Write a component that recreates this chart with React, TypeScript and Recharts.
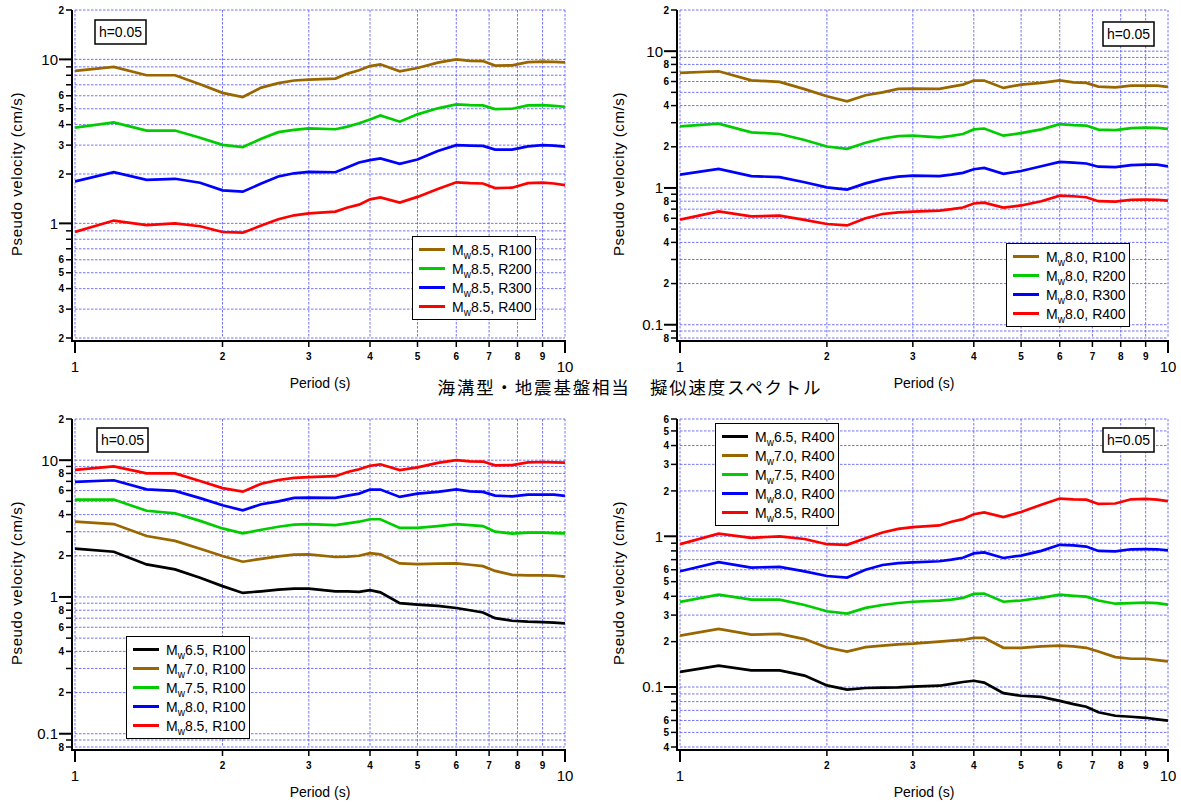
import React from 'react';
import { LineChart, Line, XAxis, YAxis, CartesianGrid, Legend } from 'recharts';

// ---------- data ----------
const periods = [1.0, 1.2, 1.4, 1.6, 1.8, 2.0, 2.2, 2.4, 2.6, 2.8, 3.0, 3.4, 3.6, 3.8, 4.0, 4.2, 4.6, 5.0, 5.5, 6.0, 6.4, 6.8, 7.2, 7.8, 8.4, 9.0, 9.5, 10.0];

const mw85_r100 = [8.5, 9.0, 8.0, 8.0, 7.05, 6.25, 5.89, 6.73, 7.16, 7.43, 7.53, 7.64, 8.19, 8.58, 9.1, 9.33, 8.46, 8.86, 9.55, 10.0, 9.8, 9.77, 9.16, 9.2, 9.63, 9.7, 9.65, 9.6];
const mw85_r200 = [3.83, 4.13, 3.68, 3.68, 3.33, 3.01, 2.92, 3.28, 3.6, 3.72, 3.8, 3.75, 3.89, 4.08, 4.3, 4.55, 4.17, 4.62, 5.03, 5.31, 5.26, 5.24, 4.98, 5.0, 5.24, 5.26, 5.2, 5.14];
const mw85_r300 = [1.8, 2.05, 1.84, 1.87, 1.77, 1.59, 1.56, 1.75, 1.93, 2.02, 2.06, 2.05, 2.2, 2.35, 2.43, 2.49, 2.31, 2.45, 2.76, 3.0, 2.98, 2.97, 2.82, 2.82, 2.95, 3.0, 2.98, 2.94];
const mw85_r400 = [0.886, 1.04, 0.977, 1.0, 0.96, 0.886, 0.878, 0.97, 1.06, 1.12, 1.15, 1.18, 1.25, 1.3, 1.4, 1.44, 1.34, 1.45, 1.62, 1.78, 1.76, 1.75, 1.64, 1.65, 1.76, 1.77, 1.75, 1.71];

const mw80_r100 = [6.94, 7.13, 6.12, 5.96, 5.28, 4.68, 4.3, 4.76, 5.0, 5.3, 5.33, 5.3, 5.51, 5.7, 6.1, 6.1, 5.39, 5.7, 5.86, 6.12, 5.92, 5.86, 5.51, 5.44, 5.6, 5.6, 5.6, 5.48];
const mw80_r200 = [2.82, 2.95, 2.55, 2.48, 2.24, 2.01, 1.93, 2.14, 2.3, 2.39, 2.41, 2.34, 2.4, 2.48, 2.68, 2.72, 2.41, 2.52, 2.68, 2.93, 2.88, 2.86, 2.67, 2.65, 2.74, 2.76, 2.75, 2.7];
const mw80_r300 = [1.25, 1.38, 1.22, 1.2, 1.1, 1.01, 0.972, 1.08, 1.16, 1.21, 1.23, 1.22, 1.25, 1.29, 1.37, 1.4, 1.27, 1.33, 1.44, 1.55, 1.53, 1.51, 1.43, 1.42, 1.47, 1.48, 1.48, 1.44];
const mw80_r400 = [0.586, 0.674, 0.62, 0.627, 0.585, 0.545, 0.532, 0.6, 0.645, 0.663, 0.671, 0.683, 0.7, 0.72, 0.77, 0.781, 0.718, 0.745, 0.8, 0.878, 0.87, 0.855, 0.8, 0.794, 0.82, 0.821, 0.82, 0.807];

const mw75_r100 = [5.15, 5.15, 4.27, 4.09, 3.6, 3.17, 2.92, 3.1, 3.26, 3.38, 3.41, 3.35, 3.45, 3.55, 3.7, 3.7, 3.2, 3.2, 3.3, 3.41, 3.35, 3.3, 3.0, 2.9, 2.95, 2.95, 2.93, 2.92];
const mw70_r100 = [3.55, 3.41, 2.79, 2.57, 2.25, 1.99, 1.81, 1.9, 1.98, 2.04, 2.05, 1.96, 1.97, 2.0, 2.09, 2.05, 1.76, 1.74, 1.75, 1.76, 1.72, 1.68, 1.55, 1.45, 1.44, 1.44, 1.43, 1.41];
const mw65_r100 = [2.26, 2.14, 1.73, 1.59, 1.38, 1.2, 1.07, 1.1, 1.13, 1.15, 1.15, 1.1, 1.1, 1.09, 1.12, 1.08, 0.9, 0.88, 0.86, 0.83, 0.8, 0.77, 0.7, 0.67, 0.66, 0.655, 0.65, 0.64];

const mw75_r400 = [0.367, 0.41, 0.38, 0.38, 0.35, 0.318, 0.307, 0.335, 0.35, 0.361, 0.368, 0.374, 0.38, 0.39, 0.415, 0.417, 0.368, 0.375, 0.39, 0.41, 0.403, 0.398, 0.375, 0.357, 0.36, 0.363, 0.36, 0.352];
const mw70_r400 = [0.219, 0.243, 0.2225, 0.225, 0.208, 0.183, 0.172, 0.184, 0.188, 0.192, 0.194, 0.2, 0.203, 0.206, 0.212, 0.212, 0.182, 0.182, 0.186, 0.188, 0.186, 0.182, 0.172, 0.158, 0.154, 0.154, 0.151, 0.148];
const mw65_r400 = [0.126, 0.1385, 0.129, 0.129, 0.119, 0.1025, 0.096, 0.0985, 0.099, 0.0994, 0.1005, 0.102, 0.105, 0.108, 0.11, 0.107, 0.091, 0.0875, 0.086, 0.081, 0.077, 0.074, 0.068, 0.0645, 0.0635, 0.0625, 0.061, 0.0598];

// ---------- tick labels ----------
const xTicks = [1, 2, 3, 4, 5, 6, 7, 8, 9, 10];
const xLabels = ['1', '2', '3', '4', '5', '6', '7', '8', '9', '10'];

const yTicksA = [0.2, 0.3, 0.4, 0.5, 0.6, 0.7, 0.8, 0.9, 1, 2, 3, 4, 5, 6, 7, 8, 9, 10, 20];
const yLabelsA = ['2', '3', '4', '5', '6', '', '', '', '1', '2', '3', '4', '5', '6', '', '', '', '10', '2'];
const yTicksB = [0.08, 0.09, 0.1, 0.2, 0.3, 0.4, 0.5, 0.6, 0.7, 0.8, 0.9, 1, 2, 3, 4, 5, 6, 7, 8, 9, 10, 20];
const yLabelsB = ['8', '', '0.1', '2', '', '4', '', '6', '', '8', '', '1', '2', '', '4', '', '6', '', '8', '', '10', '2'];
const yTicksC = [0.04, 0.05, 0.06, 0.07, 0.08, 0.09, 0.1, 0.2, 0.3, 0.4, 0.5, 0.6, 0.7, 0.8, 0.9, 1, 2, 3, 4, 5, 6];
const yLabelsC = ['4', '5', '6', '', '', '', '0.1', '2', '3', '4', '5', '6', '', '', '', '1', '2', '3', '4', '5', '6'];

const BROWN = '#996600';
const GREEN = '#00cc00';
const BLUE = '#0000ff';
const RED = '#ff0000';
const BLACK = '#000000';

const rows = periods.map((p, i) => ({
  period: p,
  mw85_r100: mw85_r100[i], mw85_r200: mw85_r200[i], mw85_r300: mw85_r300[i], mw85_r400: mw85_r400[i],
  mw80_r100: mw80_r100[i], mw80_r200: mw80_r200[i], mw80_r300: mw80_r300[i], mw80_r400: mw80_r400[i],
  mw75_r100: mw75_r100[i], mw70_r100: mw70_r100[i], mw65_r100: mw65_r100[i],
  mw75_r400: mw75_r400[i], mw70_r400: mw70_r400[i], mw65_r400: mw65_r400[i],
}));

const FONT = '"Liberation Sans", Arial, sans-serif';

const isMajor = (v: number) => {
  const lg = Math.log10(v);
  return Math.abs(lg - Math.round(lg)) < 1e-6;
};

const findLabel = (ticks: number[], labels: string[], v: number) => {
  const i = ticks.findIndex((t) => Math.abs(t - v) < 1e-9 * Math.max(1, t));
  return i >= 0 ? labels[i] : '';
};

const makeXTick = (props: any) => {
  const { x, y, payload } = props;
  const v = payload.value;
  const label = findLabel(xTicks, xLabels, v);
  const major = isMajor(v);
  const ay = y + 3;
  const len = major ? 12 : 6;
  return (
    <g>
      <line x1={x} y1={ay} x2={x} y2={ay + len} stroke="#000" strokeWidth={major ? 2 : 1.5} />
      <text
        x={x}
        y={major ? ay + 31 : ay + 19}
        textAnchor="middle"
        fontSize={major ? 15 : 10}
        fontWeight={major ? 'normal' : 'bold'}
        fontFamily={FONT}
        fill="#000"
      >
        {label}
      </text>
    </g>
  );
};

const makeYTick = (ticks: number[], labels: string[]) => (props: any) => {
  const { x, y, payload } = props;
  const v = payload.value;
  const label = findLabel(ticks, labels, v);
  const major = isMajor(v);
  const ax = x - 3;
  const len = major ? 13 : 6;
  return (
    <g>
      <line x1={ax} y1={y} x2={ax - len} y2={y} stroke="#000" strokeWidth={major ? 2 : 1.5} />
      {label ? (
        <text
          x={ax - len - (major ? 1 : 2)}
          y={y}
          dy="0.36em"
          textAnchor="end"
          fontSize={major ? 15 : 10}
          fontWeight={major ? 'normal' : 'bold'}
          fontFamily={FONT}
          fill="#000"
        >
          {label}
        </text>
      ) : null}
    </g>
  );
};

const LegendBox = (props: any) => {
  const payload = props.payload || [];
  return (
    <div
      style={{
        border: '1.5px solid #000',
        background: '#fff',
        width: 124,
        boxSizing: 'border-box',
        padding: '3px 0 3px 6px',
        fontFamily: FONT,
        fontSize: 14,
        color: '#000',
      }}
    >
      {payload.map((e: any) => (
        <div key={String(e.value)} style={{ height: 19, display: 'flex', alignItems: 'center', whiteSpace: 'nowrap' }}>
          <span style={{ display: 'inline-block', width: 26, height: 3, background: e.color, marginRight: 7 }} />
          <span>
            M<span style={{ fontSize: 10, position: 'relative', top: 4 }}>w</span>
            {String(e.value).slice(2)}
          </span>
        </div>
      ))}
    </div>
  );
};

type Series = { key: string; name: string; color: string };

type PanelProps = {
  left: number;
  top: number;
  width: number;
  height: number;
  yAxisWidth: number;
  marginRight: number;
  xAxisHeight: number;
  yDomain: [number, number];
  yTicks: number[];
  yLabels: string[];
  series: Series[];
  legendLeft: number;
  legendTop: number;
};

const Panel = (p: PanelProps) => {
  const YTick = makeYTick(p.yTicks, p.yLabels);
  return (
    <div style={{ position: 'absolute', left: p.left, top: p.top }}>
      <LineChart
        width={p.width}
        height={p.height}
        data={rows}
        margin={{ top: 10, right: p.marginRight, bottom: 0, left: 0 }}
      >
        <CartesianGrid stroke="#5a5aff" strokeOpacity={0.85} strokeDasharray="2.5 1.5" strokeWidth={1} />
        <XAxis
          dataKey="period"
          type="number"
          scale="log"
          domain={[1, 10]}
          allowDataOverflow
          ticks={xTicks}
          interval={0}
          axisLine={false}
          tickLine={false}
          tickSize={0}
          tickMargin={0}
          tick={makeXTick}
          height={p.xAxisHeight}
        />
        <YAxis
          type="number"
          scale="log"
          domain={p.yDomain}
          allowDataOverflow
          ticks={p.yTicks}
          interval={0}
          axisLine={false}
          tickLine={false}
          tickSize={0}
          tickMargin={0}
          tick={YTick}
          width={p.yAxisWidth}
        />
        {p.series.map((s) => (
          <Line
            key={s.key}
            type="linear"
            dataKey={s.key}
            name={s.name}
            stroke={s.color}
            strokeWidth={2.7}
            dot={false}
            activeDot={false}
            isAnimationActive={false}
          />
        ))}
        <Legend
          layout="horizontal"
          verticalAlign="middle"
          align="center"
          content={LegendBox}
          wrapperStyle={{ position: 'absolute', left: p.legendLeft, top: p.legendTop, width: 124 }}
        />
      </LineChart>
    </div>
  );
};

const seriesA: Series[] = [
  { key: 'mw85_r100', name: 'Mw8.5, R100', color: BROWN },
  { key: 'mw85_r200', name: 'Mw8.5, R200', color: GREEN },
  { key: 'mw85_r300', name: 'Mw8.5, R300', color: BLUE },
  { key: 'mw85_r400', name: 'Mw8.5, R400', color: RED },
];
const seriesB: Series[] = [
  { key: 'mw80_r100', name: 'Mw8.0, R100', color: BROWN },
  { key: 'mw80_r200', name: 'Mw8.0, R200', color: GREEN },
  { key: 'mw80_r300', name: 'Mw8.0, R300', color: BLUE },
  { key: 'mw80_r400', name: 'Mw8.0, R400', color: RED },
];
const seriesC: Series[] = [
  { key: 'mw65_r100', name: 'Mw6.5, R100', color: BLACK },
  { key: 'mw70_r100', name: 'Mw7.0, R100', color: BROWN },
  { key: 'mw75_r100', name: 'Mw7.5, R100', color: GREEN },
  { key: 'mw80_r100', name: 'Mw8.0, R100', color: BLUE },
  { key: 'mw85_r100', name: 'Mw8.5, R100', color: RED },
];
const seriesD: Series[] = [
  { key: 'mw65_r400', name: 'Mw6.5, R400', color: BLACK },
  { key: 'mw70_r400', name: 'Mw7.0, R400', color: BROWN },
  { key: 'mw75_r400', name: 'Mw7.5, R400', color: GREEN },
  { key: 'mw80_r400', name: 'Mw8.0, R400', color: BLUE },
  { key: 'mw85_r400', name: 'Mw8.5, R400', color: RED },
];

// plot rectangles (page coordinates) used for the axis lines and labels overlay
const rects = [
  { L: 75, R: 565, T: 10, B: 338 },
  { L: 680, R: 1168, T: 10, B: 338 },
  { L: 75, R: 565, T: 419, B: 747 },
  { L: 680, R: 1168, T: 419, B: 747 },
];
const hBoxes = [
  { x: 95, y: 20 },
  { x: 1103, y: 22 },
  { x: 97, y: 428 },
  { x: 1103, y: 428 },
];

export default function App() {
  return (
    <div style={{ position: 'absolute', left: 0, top: 0, width: 1181, height: 802, overflow: 'hidden', background: '#fff' }}>
      <Panel left={0} top={0} width={600} height={400} yAxisWidth={75} marginRight={35} xAxisHeight={62}
        yDomain={[0.2, 20]} yTicks={yTicksA} yLabels={yLabelsA} series={seriesA} legendLeft={412} legendTop={236} />
      <Panel left={600} top={0} width={581} height={400} yAxisWidth={80} marginRight={13} xAxisHeight={62}
        yDomain={[0.08, 20]} yTicks={yTicksB} yLabels={yLabelsB} series={seriesB} legendLeft={406} legendTop={243} />
      <Panel left={0} top={409} width={600} height={393} yAxisWidth={75} marginRight={35} xAxisHeight={55}
        yDomain={[0.08, 20]} yTicks={yTicksB} yLabels={yLabelsB} series={seriesC} legendLeft={126} legendTop={227} />
      <Panel left={600} top={409} width={581} height={393} yAxisWidth={80} marginRight={13} xAxisHeight={55}
        yDomain={[0.04, 6]} yTicks={yTicksC} yLabels={yLabelsC} series={seriesD} legendLeft={115} legendTop={14} />

      <svg width={1181} height={802} style={{ position: 'absolute', left: 0, top: 0, pointerEvents: 'none' }}>
        {rects.map((r, i) => (
          <g key={i}>
            <line x1={r.L - 3} y1={r.T} x2={r.L - 3} y2={r.B + 4} stroke="#000" strokeWidth={2} />
            <line x1={r.L - 4} y1={r.B + 3} x2={r.R + 1} y2={r.B + 3} stroke="#000" strokeWidth={2} />
            <text
              transform={`translate(${i % 2 === 0 ? 22 : 624}, ${(r.T + r.B) / 2}) rotate(-90)`}
              textAnchor="middle"
              fontSize={15}
              letterSpacing={0.6}
              fontFamily={FONT}
              fill="#000"
            >
              Pseudo velocity (cm/s)
            </text>
            <text x={(r.L + r.R) / 2} y={r.B + 50} textAnchor="middle" fontSize={14} fontFamily={FONT} fill="#000">
              Period (s)
            </text>
          </g>
        ))}
        {hBoxes.map((b, i) => (
          <g key={'h' + i}>
            <rect x={b.x} y={b.y} width={51} height={24} fill="#fff" stroke="#000" strokeWidth={1.5} />
            <text x={b.x + 25.5} y={b.y + 17} textAnchor="middle" fontSize={14} fontFamily={FONT} fill="#000">
              h=0.05
            </text>
          </g>
        ))}
        <text x={630} y={394} textAnchor="middle" fontSize={17.5} letterSpacing={1.8}
          fontFamily='"Noto Sans CJK JP", sans-serif' fill="#000">
          海溝型・地震基盤相当　擬似速度スペクトル
        </text>
      </svg>
    </div>
  );
}
